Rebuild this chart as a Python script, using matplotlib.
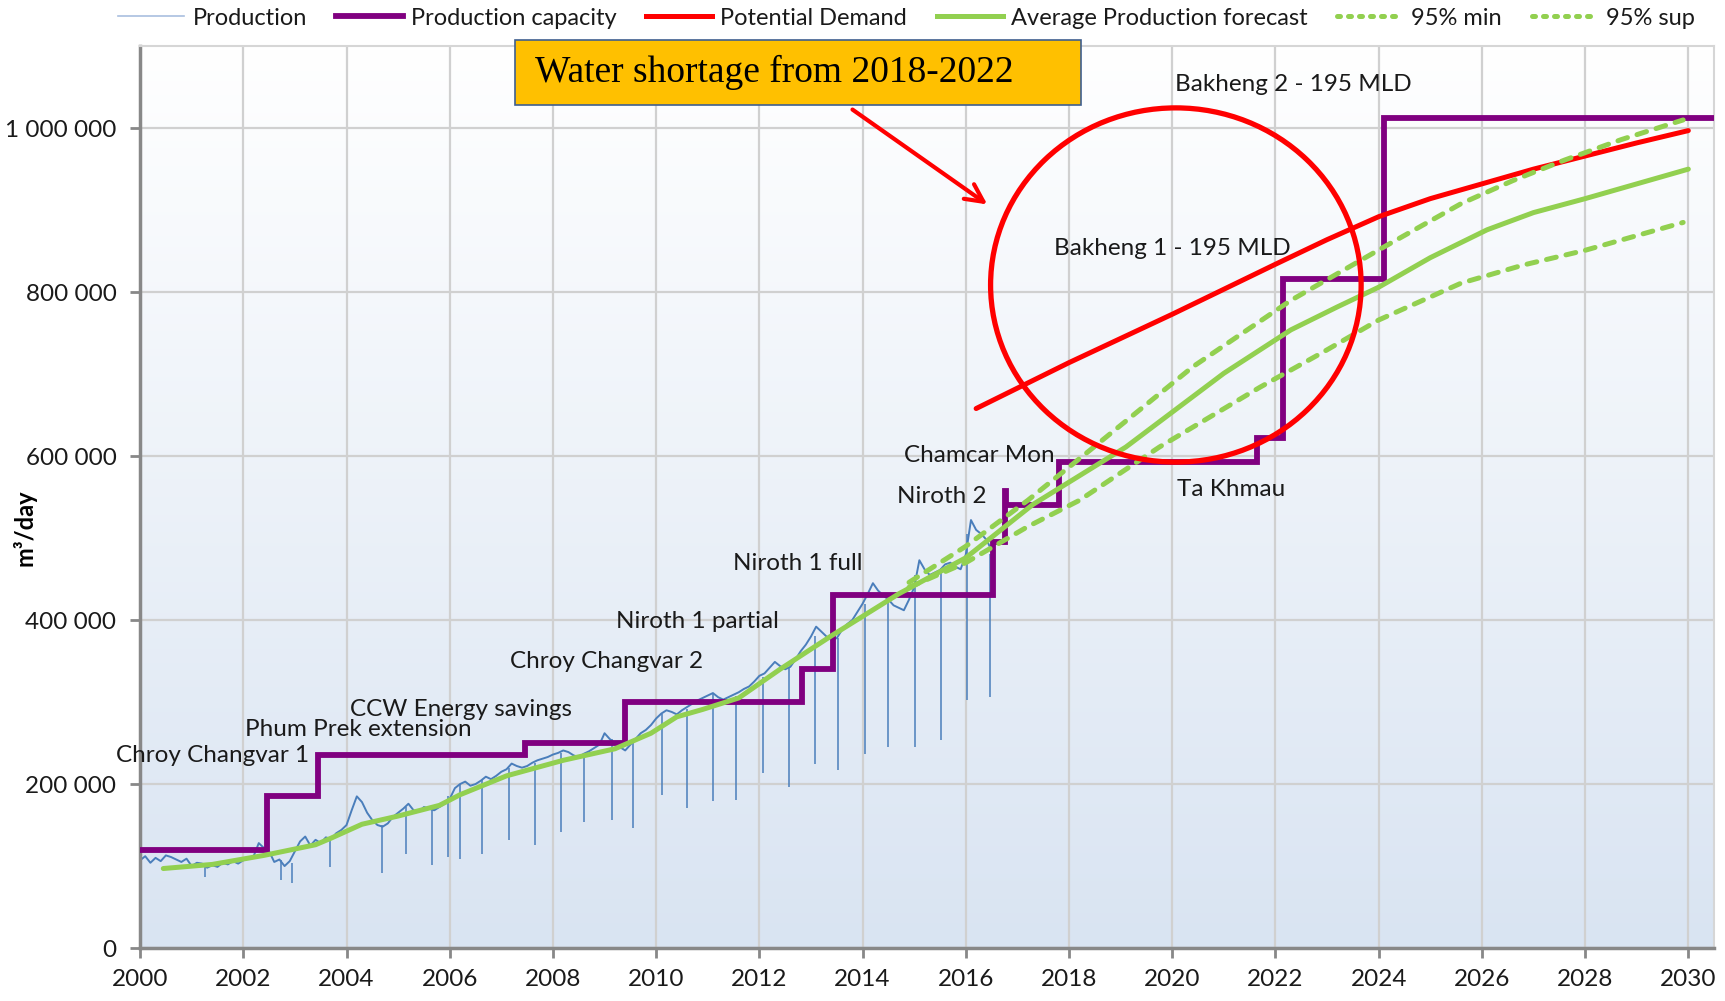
import numpy as np
import matplotlib.pyplot as plt
from matplotlib.colors import LinearSegmentedColormap
from matplotlib.patches import Ellipse, Rectangle
from matplotlib.lines import Line2D

plt.rcParams['font.family'] = ['Lato', 'DejaVu Sans']

# ---- data ----
# daily production (thousand m3/day), read every 0.1 year
prod_start = 2000.0
prod_k = [107, 112, 104, 110, 106, 113, 111, 108, 105, 109, 100, 104, 103, 98, 101, 99, 104, 102, 106, 103, 107,
          110, 112, 128, 122, 118, 105, 108, 100, 106, 118,
          130, 136, 125, 132, 128, 135, 133, 140, 144, 150,
          168, 185, 178, 165, 156, 150, 148, 152, 160, 165,
          170, 176, 168, 166, 172, 170, 168, 172, 176, 182,
          195, 200, 203, 198, 200, 204, 209, 206, 210, 215,
          218, 225, 222, 220, 222, 226, 229, 231, 233, 236,
          238, 241, 239, 235, 233, 237, 240, 244, 248, 262,
          255, 250, 245, 241, 248, 255, 262, 266, 272, 280,
          286, 290, 288, 285, 290, 294, 298, 302, 305, 308,
          311, 306, 303, 306, 309, 312, 316, 319, 325, 332,
          335, 342, 349, 344, 340, 343, 352, 362, 370, 380,
          392, 386, 380, 376, 378, 388, 395, 400, 410, 420,
          432, 445, 436, 430, 425, 418, 415, 412, 425, 440,
          473, 462, 455, 458, 461, 468, 470, 465, 462, 480,
          522, 510, 505, 498, 485]
prod_years = prod_start + 0.1 * np.arange(len(prod_k))
prod_values = np.array(prod_k) * 1000

# sharp drops in production
dip_years = [2001.26, 2002.74, 2002.94, 2003.68, 2004.68, 2005.16, 2005.65, 2005.97, 2006.19, 2006.62,
             2007.15, 2007.65, 2008.15, 2008.6, 2009.14, 2009.55, 2010.12, 2010.59, 2011.1, 2011.55,
             2012.07, 2012.57, 2013.07, 2013.52, 2014.04, 2014.5, 2015.01, 2015.51, 2016.02, 2016.46]
dip_lows = [87, 83, 79, 99, 91, 115, 101, 111, 109, 115,
            132, 126, 142, 154, 156, 146, 187, 171, 179, 181,
            213, 197, 225, 217, 237, 245, 245, 254, 302, 306]
dip_tops = [103, 107, 104, 130, 150, 172, 168, 185, 200, 205,
            220, 226, 238, 236, 255, 250, 285, 292, 311, 308,
            330, 342, 380, 378, 420, 422, 455, 463, 505, 481]
dip_lows = [v * 1000 for v in dip_lows]
dip_tops = [v * 1000 for v in dip_tops]

# production capacity (step changes)
cap_years = [2000, 2002.45, 2003.45, 2007.45, 2009.4, 2012.83, 2013.43, 2016.53, 2016.75, 2016.77,
             2017.8, 2021.65, 2022.14, 2024.1, 2030.5]
cap_values = [120, 185, 235, 250, 300, 340, 430, 495, 558, 540,
              593, 622, 816, 1012, 1012]
cap_values = [v * 1000 for v in cap_values]

# potential demand
dem_years = [2016.2, 2018, 2020, 2022, 2023, 2024, 2025, 2026, 2027, 2028, 2029, 2030]
dem_values = [658, 714, 773, 834, 864, 892, 914, 932, 950, 966, 982, 997]
dem_values = [v * 1000 for v in dem_values]

# average production forecast
avg_years = [2000.45, 2001.4, 2002.4, 2003.4, 2003.7, 2004.3, 2005.0, 2005.8, 2006.2, 2007.1,
             2008.2, 2009.2, 2009.9, 2010.4, 2010.9, 2011.6, 2012.4, 2013.4, 2014.7, 2016.0,
             2017.3, 2019.1, 2021.0, 2022.3, 2023.2, 2024.0, 2025.0, 2026.1, 2027.0, 2028.0,
             2029.0, 2030.0]
avg_values = [97, 102, 113, 126, 134, 151, 161, 174, 187, 210,
              229, 243, 262, 282, 291, 305, 340, 381, 432, 476,
              541, 611, 701, 754, 782, 806, 842, 876, 897, 914,
              932, 950]
avg_values = [v * 1000 for v in avg_values]

# 95% bounds
sup_years = [2014.9, 2016.0, 2017.2, 2018.5, 2020.4, 2022.3, 2024.1, 2025.6, 2026.6, 2027.6,
             2028.7, 2029.9]
sup_values = [446, 490, 546, 612, 709, 790, 855, 908, 936, 961, 986, 1010]
sup_values = [v * 1000 for v in sup_values]
min_years = [2014.9, 2016.0, 2017.2, 2018.2, 2019.75, 2021.7, 2022.9, 2024.0, 2025.6, 2026.8,
             2028.0, 2029.9]
min_values = [440, 470, 514, 546, 611, 684, 726, 766, 811, 833, 851, 885]
min_values = [v * 1000 for v in min_values]

labels = ['Chroy Changvar 1', 'Phum Prek extension', 'CCW Energy savings', 'Chroy Changvar 2',
          'Niroth 1 partial', 'Niroth 1 full', 'Niroth 2', 'Chamcar Mon', 'Ta Khmau',
          'Bakheng 1 - 195 MLD', 'Bakheng 2 - 195 MLD']
label_x = [2001.4, 2004.23, 2006.22, 2009.03, 2010.8, 2012.74, 2015.53, 2016.27, 2021.15, 2020.0, 2022.35]
label_y = [235e3, 267e3, 291e3, 349e3, 398e3, 469e3, 551e3, 601e3, 559e3, 853e3, 1053e3]

# ---- figure ----
fig = plt.figure(figsize=(17.25, 10.01), dpi=100)
ax = fig.add_axes([0.0812, 0.0529, 0.9125, 0.901])
ax.set_xlim(2000, 2030.5)
ax.set_ylim(0, 1100000)

bg = LinearSegmentedColormap.from_list('bg', ['#ffffff', '#d9e4f2'])
ax.imshow(np.linspace(0, 1, 256).reshape(-1, 1), cmap=bg, extent=[0, 1, 0, 1],
          transform=ax.transAxes, aspect='auto', zorder=0)

ax.set_xticks(range(2000, 2031, 2))
ax.set_yticks(range(0, 1000001, 200000))
ax.set_yticklabels([f'{v:,}'.replace(',', ' ') for v in range(0, 1000001, 200000)])
ax.grid(True, color='#d0d0d0', lw=1.6, zorder=1)
ax.set_axisbelow(True)
for s in ['left', 'bottom']:
    ax.spines[s].set_color('#888888')
    ax.spines[s].set_linewidth(2.5)
for s in ['top', 'right']:
    ax.spines[s].set_color('#d6d6d6')
    ax.spines[s].set_linewidth(1.5)
ax.tick_params(direction='out', length=7, width=2, color='#888888', labelsize=17.5,
               labelcolor='#1a1a1a')
ax.tick_params(axis='y', pad=10)
ax.tick_params(axis='x', pad=8)
ax.set_ylabel('m³/day', fontsize=17, fontweight='bold')
ax.yaxis.set_label_coords(-0.066, 0.466)

ax.plot(prod_years, prod_values, color='#4a7ebb', lw=1.4, zorder=2)
ax.vlines(dip_years, dip_lows, dip_tops, color='#4a7ebb', lw=1.1, zorder=2)
ax.step(cap_years, cap_values, where='post', color='#800080', lw=4.2, zorder=3,
        solid_joinstyle='miter')
ax.plot(dem_years, dem_values, color='#ff0000', lw=3.6, zorder=4, solid_capstyle='round')
ax.plot(avg_years, avg_values, color='#92d050', lw=3.6, zorder=5, solid_capstyle='round')
ax.plot(sup_years, sup_values, color='#92d050', lw=3.6, ls=(0, (2.0, 2.0)), zorder=5,
        dash_capstyle='round')
ax.plot(min_years, min_values, color='#92d050', lw=3.6, ls=(0, (2.0, 2.0)), zorder=5,
        dash_capstyle='round')

for t, x, y in zip(labels, label_x, label_y):
    ax.text(x, y, t, fontsize=17.5, ha='center', va='center', color='#1a1a1a', zorder=8,
            clip_on=False)

ax.add_patch(Ellipse((2020.07, 808.7e3), 7.18, 432e3, fill=False, ec='#ff0000', lw=3.8,
                     zorder=7, clip_on=False))
ax.annotate('', xy=(2016.46, 905e3), xytext=(2013.76, 1024.6e3),
            arrowprops=dict(arrowstyle='->', color='#ff0000', lw=3, mutation_scale=32),
            zorder=7)

fig.patches.append(Rectangle((0.2986, 0.8956), 0.3281, 0.0648, transform=fig.transFigure,
                             facecolor='#ffc000', edgecolor='#3f5f8f', lw=1.2, zorder=5))
fig.text(0.3101, 0.9275, 'Water shortage from 2018-2022', family='Liberation Serif',
         fontsize=27, va='center', ha='left', zorder=6)

handles = [
    Line2D([], [], color='#a9bfdf', lw=1.2),
    Line2D([], [], color='#800080', lw=4.2),
    Line2D([], [], color='#ff0000', lw=3.6),
    Line2D([], [], color='#92d050', lw=3.6),
    Line2D([], [], color='#92d050', lw=3.6, ls=(0, (0.6, 1.6)), dash_capstyle='round'),
    Line2D([], [], color='#92d050', lw=3.6, ls=(0, (0.6, 1.6)), dash_capstyle='round'),
]
names = ['Production', 'Production capacity', 'Potential Demand',
         'Average Production forecast', '95% min', '95% sup']
fig.legend(handles, names, loc='center', bbox_to_anchor=(0.5255, 0.982), ncol=6,
           frameon=False, fontsize=17, handlelength=2.8, handletextpad=0.35,
           columnspacing=1.25, labelcolor='#1a1a1a')

fig.savefig('out.png', dpi=100)
